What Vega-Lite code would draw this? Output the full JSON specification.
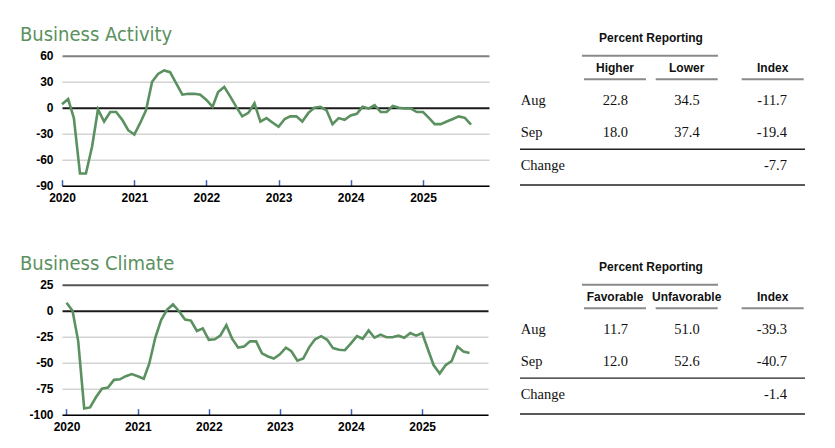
{
  "$schema": "https://vega.github.io/schema/vega-lite/v6.json",
  "background": "white",
  "padding": {"left": 20, "top": 24.7, "right": 5, "bottom": 5},
  "bounds": "flush",
  "columns": 2,
  "spacing": {"row": 99, "column": 31},
  "config": {
    "view": {"stroke": null},
    "axis": {"labelFont": "Liberation Sans", "labelFontWeight": "bold", "labelFontSize": 12, "labelColor": "#000", "labelOverlap": false}
  },
  "datasets": {
    "activity": [
      {"d":"2020-01-01","v":4},{"d":"2020-02-01","v":10},{"d":"2020-03-01","v":-12},{"d":"2020-04-01","v":-76},{"d":"2020-05-01","v":-76},{"d":"2020-06-01","v":-45},{"d":"2020-07-01","v":-2},{"d":"2020-08-01","v":-16},{"d":"2020-09-01","v":-5},{"d":"2020-10-01","v":-5},{"d":"2020-11-01","v":-14},{"d":"2020-12-01","v":-26},
      {"d":"2021-01-01","v":-31},{"d":"2021-02-01","v":-17},{"d":"2021-03-01","v":-3},{"d":"2021-04-01","v":30},{"d":"2021-05-01","v":39},{"d":"2021-06-01","v":43},{"d":"2021-07-01","v":41},{"d":"2021-08-01","v":28},{"d":"2021-09-01","v":15},{"d":"2021-10-01","v":16},{"d":"2021-11-01","v":16},{"d":"2021-12-01","v":15},
      {"d":"2022-01-01","v":9},{"d":"2022-02-01","v":1},{"d":"2022-03-01","v":18},{"d":"2022-04-01","v":24},{"d":"2022-05-01","v":13},{"d":"2022-06-01","v":1},{"d":"2022-07-01","v":-10},{"d":"2022-08-01","v":-6},{"d":"2022-09-01","v":5},{"d":"2022-10-01","v":-16},{"d":"2022-11-01","v":-12},{"d":"2022-12-01","v":-17},
      {"d":"2023-01-01","v":-22},{"d":"2023-02-01","v":-13},{"d":"2023-03-01","v":-10},{"d":"2023-04-01","v":-10},{"d":"2023-05-01","v":-16},{"d":"2023-06-01","v":-6},{"d":"2023-07-01","v":0},{"d":"2023-08-01","v":1},{"d":"2023-09-01","v":-3},{"d":"2023-10-01","v":-19},{"d":"2023-11-01","v":-12},{"d":"2023-12-01","v":-14},
      {"d":"2024-01-01","v":-9},{"d":"2024-02-01","v":-7},{"d":"2024-03-01","v":1},{"d":"2024-04-01","v":-1},{"d":"2024-05-01","v":3},{"d":"2024-06-01","v":-5},{"d":"2024-07-01","v":-5},{"d":"2024-08-01","v":2},{"d":"2024-09-01","v":0},{"d":"2024-10-01","v":-1},{"d":"2024-11-01","v":-1},{"d":"2024-12-01","v":-5},
      {"d":"2025-01-01","v":-5},{"d":"2025-02-01","v":-12},{"d":"2025-03-01","v":-19},{"d":"2025-04-01","v":-19},{"d":"2025-05-01","v":-16},{"d":"2025-06-01","v":-13},{"d":"2025-07-01","v":-10},{"d":"2025-08-01","v":-11.7},{"d":"2025-09-01","v":-19.4}
    ],
    "climate": [
      {"d":"2020-01-01","v":7.7},{"d":"2020-02-01","v":0},{"d":"2020-03-01","v":-29},{"d":"2020-04-01","v":-94},{"d":"2020-05-01","v":-93},{"d":"2020-06-01","v":-83},{"d":"2020-07-01","v":-75},{"d":"2020-08-01","v":-74},{"d":"2020-09-01","v":-66.5},{"d":"2020-10-01","v":-66},{"d":"2020-11-01","v":-63},{"d":"2020-12-01","v":-61},
      {"d":"2021-01-01","v":-63},{"d":"2021-02-01","v":-65.5},{"d":"2021-03-01","v":-51},{"d":"2021-04-01","v":-26},{"d":"2021-05-01","v":-9},{"d":"2021-06-01","v":1},{"d":"2021-07-01","v":6},{"d":"2021-08-01","v":-0.5},{"d":"2021-09-01","v":-8.5},{"d":"2021-10-01","v":-9.5},{"d":"2021-11-01","v":-19.5},{"d":"2021-12-01","v":-17},
      {"d":"2022-01-01","v":-28},{"d":"2022-02-01","v":-27.5},{"d":"2022-03-01","v":-24},{"d":"2022-04-01","v":-14},{"d":"2022-05-01","v":-27},{"d":"2022-06-01","v":-35.5},{"d":"2022-07-01","v":-34.5},{"d":"2022-08-01","v":-29.5},{"d":"2022-09-01","v":-29.5},{"d":"2022-10-01","v":-41},{"d":"2022-11-01","v":-44},{"d":"2022-12-01","v":-46},
      {"d":"2023-01-01","v":-42},{"d":"2023-02-01","v":-35.5},{"d":"2023-03-01","v":-39},{"d":"2023-04-01","v":-48},{"d":"2023-05-01","v":-46},{"d":"2023-06-01","v":-35},{"d":"2023-07-01","v":-27.5},{"d":"2023-08-01","v":-24.5},{"d":"2023-09-01","v":-28},{"d":"2023-10-01","v":-36},{"d":"2023-11-01","v":-37.5},{"d":"2023-12-01","v":-38},
      {"d":"2024-01-01","v":-31.5},{"d":"2024-02-01","v":-24.5},{"d":"2024-03-01","v":-27},{"d":"2024-04-01","v":-19},{"d":"2024-05-01","v":-26},{"d":"2024-06-01","v":-23},{"d":"2024-07-01","v":-25.5},{"d":"2024-08-01","v":-25.5},{"d":"2024-09-01","v":-24},{"d":"2024-10-01","v":-26},{"d":"2024-11-01","v":-21.5},{"d":"2024-12-01","v":-24},
      {"d":"2025-01-01","v":-21.5},{"d":"2025-02-01","v":-38},{"d":"2025-03-01","v":-52.5},{"d":"2025-04-01","v":-60.5},{"d":"2025-05-01","v":-52.5},{"d":"2025-06-01","v":-48.5},{"d":"2025-07-01","v":-34.5},{"d":"2025-08-01","v":-39.3},{"d":"2025-09-01","v":-40.7}
    ],
    "table1": [
      {"row":"title","col":"col1","t":"Percent Reporting"},
      {"row":"header","col":"col1","t":"Higher"},
      {"row":"header","col":"col2","t":"Lower"},
      {"row":"header","col":"index","t":"Index"},
      {"row":"Aug","col":"label","t":"Aug"},
      {"row":"Aug","col":"col1","t":"22.8"},
      {"row":"Aug","col":"col2","t":"34.5"},
      {"row":"Aug","col":"index","t":"-11.7"},
      {"row":"Sep","col":"label","t":"Sep"},
      {"row":"Sep","col":"col1","t":"18.0"},
      {"row":"Sep","col":"col2","t":"37.4"},
      {"row":"Sep","col":"index","t":"-19.4"},
      {"row":"Change","col":"label","t":"Change"},
      {"row":"Change","col":"index","t":"-7.7"}
    ],
    "table2": [
      {"row":"title","col":"col1","t":"Percent Reporting"},
      {"row":"header","col":"col1","t":"Favorable"},
      {"row":"header","col":"col2","t":"Unfavorable"},
      {"row":"header","col":"index","t":"Index"},
      {"row":"Aug","col":"label","t":"Aug"},
      {"row":"Aug","col":"col1","t":"11.7"},
      {"row":"Aug","col":"col2","t":"51.0"},
      {"row":"Aug","col":"index","t":"-39.3"},
      {"row":"Sep","col":"label","t":"Sep"},
      {"row":"Sep","col":"col1","t":"12.0"},
      {"row":"Sep","col":"col2","t":"52.6"},
      {"row":"Sep","col":"index","t":"-40.7"},
      {"row":"Change","col":"label","t":"Change"},
      {"row":"Change","col":"index","t":"-1.4"}
    ]
  },
  "concat": [
    {
      "width": 427, "height": 130,
      "title": {"text": "Business Activity", "anchor": "start", "frame": "group", "dx": -42, "offset": -11, "baseline": "alphabetic", "fontSize": 20, "font": "DejaVu Sans Condensed, sans-serif", "fontWeight": "normal", "color": "#5b9160"},
      "data": {"name": "activity"},
      "mark": {"type": "line", "color": "#5b9160", "strokeWidth": 2.6},
      "encoding": {
        "x": {"field": "d", "type": "temporal",
          "scale": {"type": "utc", "domain": [{"year":2020,"month":1,"date":1,"utc":true},{"year":2025,"month":12,"date":1,"utc":true}]},
          "axis": {"title": null, "grid": false, "format": "%Y", "formatType": "utc", "labelFlush": false, "labelOverlap": false,
            "values": [{"year":2020,"month":1,"date":1,"utc":true},{"year":2021,"month":1,"date":1,"utc":true},{"year":2022,"month":1,"date":1,"utc":true},{"year":2023,"month":1,"date":1,"utc":true},{"year":2024,"month":1,"date":1,"utc":true},{"year":2025,"month":1,"date":1,"utc":true}],
            "domainColor": "#000", "domainWidth": 1.5, "tickColor": "#3b62b8", "tickSize": -6, "tickWidth": 1.5, "labelPadding": 13}},
        "y": {"field": "v", "type": "quantitative",
          "scale": {"domain": [-90, 60], "nice": false, "zero": false},
          "axis": {"title": null, "values": [-90,-60,-30,0,30,60], "labelOverlap": false, "grid": true,
            "labelExpr": "replace(datum.label, '−', '-')",
            "gridColor": {"condition": [{"test": "datum.value === 0", "value": "#1a1a1a"}, {"test": "datum.value === 60", "value": "#808080"}], "value": "#d3d3d3"},
            "gridWidth": {"condition": {"test": "datum.value === 0 || datum.value === 60", "value": 2}, "value": 1.5},
            "domain": false, "ticks": false, "labelPadding": 9}}
      }
    },
    {
      "width": 285, "height": 130,
      "data": {"name": "table1"},
      "encoding": {
        "x": {"field": "col", "type": "nominal", "scale": {"type": "point", "padding": 0, "domain": ["label","col1","col2","index"], "range": [23.3, 238.4]}, "axis": null},
        "y": {"field": "row", "type": "nominal", "scale": {"type": "point", "padding": 0, "domain": ["header","Aug","Sep","Change"], "range": [12.6, 110]}, "axis": null}
      },
      "layer": [
        {"transform": [{"filter": "datum.col == 'label'"}], "mark": {"type": "text", "align": "left", "dx": -22.6, "font": "Liberation Serif, Times New Roman, serif", "fontSize": 14.5, "color": "#111"}, "encoding": {"text": {"field": "t"}}},
        {"transform": [{"filter": "(datum.col == 'col1' || datum.col == 'col2') && datum.row != 'header' && datum.row != 'title'"}], "mark": {"type": "text", "align": "right", "dx": 13, "font": "Liberation Serif, Times New Roman, serif", "fontSize": 14.5, "color": "#111"}, "encoding": {"text": {"field": "t"}}},
        {"transform": [{"filter": "datum.col == 'index' && datum.row != 'header'"}], "mark": {"type": "text", "align": "right", "dx": 28.6, "font": "Liberation Serif, Times New Roman, serif", "fontSize": 14.5, "color": "#111"}, "encoding": {"text": {"field": "t"}}},
        {"transform": [{"filter": "datum.row == 'header' && datum.col != 'index'"}], "mark": {"type": "text", "align": "center", "font": "Liberation Sans, sans-serif", "fontWeight": "bold", "fontSize": 12, "color": "#111"}, "encoding": {"text": {"field": "t"}}},
        {"transform": [{"filter": "datum.row == 'header' && datum.col == 'index'"}], "mark": {"type": "text", "align": "center", "dx": 14.3, "font": "Liberation Sans, sans-serif", "fontWeight": "bold", "fontSize": 12, "color": "#111"}, "encoding": {"text": {"field": "t"}}},
        {"transform": [{"filter": "datum.row == 'title'"}], "mark": {"type": "text", "align": "center", "dx": 36, "dy": -30, "font": "Liberation Sans, sans-serif", "fontWeight": "bold", "fontSize": 12, "color": "#111"}, "encoding": {"x": {"datum": "col1"}, "y": {"datum": "header"}, "text": {"field": "t"}}},
        {"transform": [{"filter": "datum.row == 'header' && datum.col != 'index'"}], "mark": {"type": "tick", "orient": "horizontal", "size": 62, "thickness": 2, "color": "#8a8a8a", "opacity": 1, "yOffset": 11}},
        {"transform": [{"filter": "datum.row == 'header' && datum.col == 'index'"}], "mark": {"type": "tick", "orient": "horizontal", "size": 62, "thickness": 2, "color": "#8a8a8a", "opacity": 1, "yOffset": 11, "xOffset": 14.3}},
        {"transform": [{"filter": "datum.row == 'title'"}], "mark": {"type": "tick", "orient": "horizontal", "size": 136, "thickness": 2, "color": "#8a8a8a", "opacity": 1, "yOffset": -12.6, "xOffset": 35}, "encoding": {"x": {"datum": "col1"}, "y": {"datum": "header"}}},
        {"transform": [{"filter": "datum.row == 'title'"}], "mark": {"type": "rule", "color": "#222", "strokeWidth": 1.3, "yOffset": 16}, "encoding": {"x": null, "y": {"datum": "Sep"}}},
        {"transform": [{"filter": "datum.row == 'title'"}], "mark": {"type": "rule", "color": "#222", "strokeWidth": 1.3, "yOffset": 19.3}, "encoding": {"x": null, "y": {"datum": "Change"}}}
      ]
    },
    {
      "width": 426, "height": 130,
      "title": {"text": "Business Climate", "anchor": "start", "frame": "group", "dx": -42, "offset": -11, "baseline": "alphabetic", "fontSize": 20, "font": "DejaVu Sans Condensed, sans-serif", "fontWeight": "normal", "color": "#5b9160"},
      "data": {"name": "climate"},
      "mark": {"type": "line", "color": "#5b9160", "strokeWidth": 2.6},
      "encoding": {
        "x": {"field": "d", "type": "temporal",
          "scale": {"type": "utc", "domain": [{"year":2019,"month":12,"date":9,"utc":true},{"year":2025,"month":12,"date":5,"utc":true}]},
          "axis": {"title": null, "grid": false, "format": "%Y", "formatType": "utc", "labelFlush": false, "labelOverlap": false,
            "values": [{"year":2020,"month":1,"date":1,"utc":true},{"year":2021,"month":1,"date":1,"utc":true},{"year":2022,"month":1,"date":1,"utc":true},{"year":2023,"month":1,"date":1,"utc":true},{"year":2024,"month":1,"date":1,"utc":true},{"year":2025,"month":1,"date":1,"utc":true}],
            "domainColor": "#000", "domainWidth": 1.5, "tickColor": "#3b62b8", "tickSize": -6, "tickWidth": 1.5, "labelPadding": 13}},
        "y": {"field": "v", "type": "quantitative",
          "scale": {"domain": [-100, 25], "nice": false, "zero": false},
          "axis": {"title": null, "values": [-100,-75,-50,-25,0,25], "labelOverlap": false, "grid": true,
            "labelExpr": "replace(datum.label, '−', '-')",
            "gridColor": {"condition": [{"test": "datum.value === 0", "value": "#1a1a1a"}, {"test": "datum.value === 25", "value": "#555555"}], "value": "#d3d3d3"},
            "gridWidth": {"condition": {"test": "datum.value === 0 || datum.value === 25", "value": 2}, "value": 1.5},
            "domain": false, "ticks": false, "labelPadding": 9}}
      }
    },
    {
      "width": 285, "height": 130,
      "data": {"name": "table2"},
      "encoding": {
        "x": {"field": "col", "type": "nominal", "scale": {"type": "point", "padding": 0, "domain": ["label","col1","col2","index"], "range": [23.3, 238.4]}, "axis": null},
        "y": {"field": "row", "type": "nominal", "scale": {"type": "point", "padding": 0, "domain": ["header","Aug","Sep","Change"], "range": [12.6, 110]}, "axis": null}
      },
      "layer": [
        {"transform": [{"filter": "datum.col == 'label'"}], "mark": {"type": "text", "align": "left", "dx": -22.6, "font": "Liberation Serif, Times New Roman, serif", "fontSize": 14.5, "color": "#111"}, "encoding": {"text": {"field": "t"}}},
        {"transform": [{"filter": "(datum.col == 'col1' || datum.col == 'col2') && datum.row != 'header' && datum.row != 'title'"}], "mark": {"type": "text", "align": "right", "dx": 13, "font": "Liberation Serif, Times New Roman, serif", "fontSize": 14.5, "color": "#111"}, "encoding": {"text": {"field": "t"}}},
        {"transform": [{"filter": "datum.col == 'index' && datum.row != 'header'"}], "mark": {"type": "text", "align": "right", "dx": 28.6, "font": "Liberation Serif, Times New Roman, serif", "fontSize": 14.5, "color": "#111"}, "encoding": {"text": {"field": "t"}}},
        {"transform": [{"filter": "datum.row == 'header' && datum.col != 'index'"}], "mark": {"type": "text", "align": "center", "font": "Liberation Sans, sans-serif", "fontWeight": "bold", "fontSize": 12, "color": "#111"}, "encoding": {"text": {"field": "t"}}},
        {"transform": [{"filter": "datum.row == 'header' && datum.col == 'index'"}], "mark": {"type": "text", "align": "center", "dx": 14.3, "font": "Liberation Sans, sans-serif", "fontWeight": "bold", "fontSize": 12, "color": "#111"}, "encoding": {"text": {"field": "t"}}},
        {"transform": [{"filter": "datum.row == 'title'"}], "mark": {"type": "text", "align": "center", "dx": 36, "dy": -30, "font": "Liberation Sans, sans-serif", "fontWeight": "bold", "fontSize": 12, "color": "#111"}, "encoding": {"x": {"datum": "col1"}, "y": {"datum": "header"}, "text": {"field": "t"}}},
        {"transform": [{"filter": "datum.row == 'header' && datum.col != 'index'"}], "mark": {"type": "tick", "orient": "horizontal", "size": 62, "thickness": 2, "color": "#8a8a8a", "opacity": 1, "yOffset": 11}},
        {"transform": [{"filter": "datum.row == 'header' && datum.col == 'index'"}], "mark": {"type": "tick", "orient": "horizontal", "size": 62, "thickness": 2, "color": "#8a8a8a", "opacity": 1, "yOffset": 11, "xOffset": 14.3}},
        {"transform": [{"filter": "datum.row == 'title'"}], "mark": {"type": "tick", "orient": "horizontal", "size": 136, "thickness": 2, "color": "#8a8a8a", "opacity": 1, "yOffset": -12.6, "xOffset": 35}, "encoding": {"x": {"datum": "col1"}, "y": {"datum": "header"}}},
        {"transform": [{"filter": "datum.row == 'title'"}], "mark": {"type": "rule", "color": "#222", "strokeWidth": 1.3, "yOffset": 16}, "encoding": {"x": null, "y": {"datum": "Sep"}}},
        {"transform": [{"filter": "datum.row == 'title'"}], "mark": {"type": "rule", "color": "#222", "strokeWidth": 1.3, "yOffset": 19.3}, "encoding": {"x": null, "y": {"datum": "Change"}}}
      ]
    }
  ]
}
